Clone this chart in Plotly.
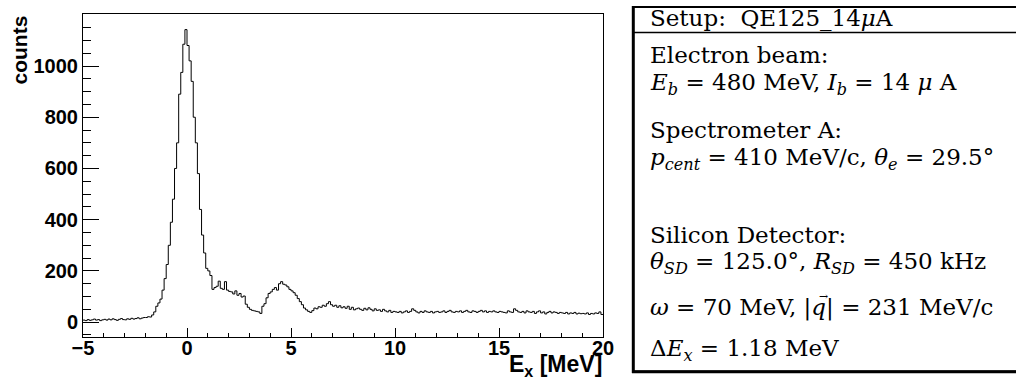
import numpy as np
import plotly.graph_objects as go

# ---------------- data ----------------
e_min, e_max = -5.0, 20.0          # histogram range [MeV]
counts = [
    # -5 .. -4
    8, 6, 10, 7, 9, 12, 8, 10, 6, 9,
    # -4 .. -3
    11, 8, 12, 9, 13, 10, 7, 11, 14, 10,
    # -3 .. -2
    9, 13, 11, 15, 12, 14, 17, 13, 16, 18,
    # -2 .. -1
    18, 21, 20, 28, 40, 62, 75, 90, 125, 170,
    # -1 .. 0
    225, 300, 390, 480, 600, 700, 890, 975, 1085, 1142,
    # 0 .. 1
    1080, 1020, 940, 800, 700, 580, 440, 340, 270, 210,
    # 1 .. 2
    200, 182, 128, 135, 140, 160, 132, 128, 158, 125,
    # 2 .. 3
    120, 118, 110, 122, 105, 112, 98, 102, 70, 58,
    # 3 .. 4
    50, 46, 44, 42, 40, 34, 62, 72, 95, 112,
    # 4 .. 5
    118, 128, 135, 125, 150, 158, 148, 145, 138, 128,
    # 5 .. 6
    122, 115, 105, 92, 80, 68, 55, 48, 42, 38,
    # 6 .. 7
    45, 55, 52, 60, 58, 66, 62, 72, 80, 68,
    # 7 .. 8
    62, 66, 58, 64, 56, 60, 54, 62, 50, 58,
    # 8 .. 9
    48, 52, 55, 50, 46, 54, 48, 56, 50, 44,
    # 9 .. 10
    52, 46, 48, 42, 50, 44, 40, 46, 38, 42,
    # 10 .. 11
    40, 38, 42, 36, 40, 44, 38, 42, 52, 46,
    # 11 .. 12
    40, 36, 42, 38, 44, 40, 38, 42, 36, 40,
    # 12 .. 13
    42, 38, 40, 44, 38, 42, 46, 40, 38, 42,
    # 13 .. 14
    40, 44, 38, 42, 46, 40, 38, 44, 42, 38,
    # 14 .. 15
    42, 46, 40, 44, 38, 42, 40, 44, 40, 38,
    # 15 .. 16
    42, 40, 38, 36, 44, 40, 38, 52, 46, 40,
    # 16 .. 17
    38, 42, 36, 44, 40, 38, 42, 34, 40, 44,
    # 17 .. 18
    36, 40, 32, 38, 42, 36, 40, 38, 34, 38,
    # 18 .. 19
    36, 34, 38, 32, 36, 34, 38, 32, 35, 33,
    # 19 .. 20
    34, 32, 36, 30, 34, 32, 36, 34, 40, 30,
]
x_ticks = [-5, 0, 5, 10, 15, 20]
y_ticks = [0, 200, 400, 600, 800, 1000]
x_title = "<b>E<sub>x</sub> [MeV]</b>"
y_title = "<b>counts</b>"
info_lines = [
    "Setup:  QE125_14<i>μ</i>A",
    "Electron beam:",
    "<i>E<sub>b</sub></i> = 480 MeV, <i>I<sub>b</sub></i> = 14 <i>μ</i> A",
    "Spectrometer A:",
    "<i>p<sub>cent</sub></i> = 410 MeV/c, <i>θ<sub>e</sub></i> = 29.5°",
    "Silicon Detector:",
    "<i>θ<sub>SD</sub></i> = 125.0°, <i>R<sub>SD</sub></i> = 450 kHz",
    "<i>ω</i> = 70 MeV, |<i>q</i>| = 231 MeV/c",
    "Δ<i>E<sub>x</sub></i> = 1.18 MeV",
]

# ---------------- geometry (pixels) ----------------
W, H = 1016, 392
L, R, T, B = 83, 603, 14, 337


def px(xp):
    return (xp - L) / (R - L)


def py(yp):
    return (B - yp) / (B - T)


edges = np.linspace(e_min, e_max, len(counts) + 1)
xs = list(edges)
ys = list(counts) + [counts[-1]]

fig = go.Figure()
fig.add_trace(go.Scatter(
    x=xs, y=ys, mode="lines", line=dict(color="black", width=1, shape="hv"),
    hoverinfo="skip", showlegend=False,
))

tickfont = dict(family="Liberation Sans", size=20, color="black", weight="bold")
fig.update_xaxes(
    range=[e_min, e_max], tickvals=x_ticks, ticks="inside", ticklen=9,
    tickcolor="black", tickwidth=1, ticklabelstandoff=-7,
    minor=dict(dtick=1, ticks="inside", ticklen=4.5, tickcolor="black", tickwidth=1),
    showline=True, linecolor="black", linewidth=1, mirror=True,
    showgrid=False, zeroline=False, tickfont=tickfont, automargin=False,
)
fig.update_yaxes(
    range=[-58, 1203], tickvals=y_ticks, ticks="inside", ticklen=16,
    tickcolor="black", tickwidth=1,
    minor=dict(dtick=50, ticks="inside", ticklen=8, tickcolor="black", tickwidth=1),
    showline=True, linecolor="black", linewidth=1, mirror=True,
    showgrid=False, zeroline=False, tickfont=tickfont, automargin=False,
)

annotations = [
    dict(text=y_title, xref="paper", yref="paper", x=px(19), y=py(14),
         xanchor="center", yanchor="top", textangle=-90, showarrow=False,
         font=dict(family="Liberation Sans", size=21, color="black")),
    dict(text=x_title, xref="paper", yref="paper", x=px(604), y=py(349),
         xanchor="right", yanchor="top", showarrow=False,
         font=dict(family="Liberation Sans", size=23, color="black")),
]
line_centers = [18, 55, 84, 130, 159, 235, 263, 307, 350]
for txt, yc in zip(info_lines, line_centers):
    annotations.append(dict(
        text=txt, xref="paper", yref="paper", x=px(648), y=py(yc),
        xanchor="left", yanchor="middle", showarrow=False, align="left",
        font=dict(family="DejaVu Serif", size=23, color="black"),
    ))
# vector arrow over q
annotations.append(dict(
    text="→", xref="paper", yref="paper", x=px(823), y=py(296),
    xanchor="center", yanchor="middle", showarrow=False,
    font=dict(family="DejaVu Serif", size=11, color="black"),
))

shapes = [
    # info box outline
    dict(type="rect", xref="paper", yref="paper", x0=px(633), x1=px(1030),
         y0=py(371.5), y1=py(7), line=dict(color="black", width=2)),
    dict(type="line", xref="paper", yref="paper", x0=px(633.3), x1=px(633.3),
         y0=py(373), y1=py(6), line=dict(color="black", width=3)),
    dict(type="line", xref="paper", yref="paper", x0=px(632), x1=px(1030),
         y0=py(371.7), y1=py(371.7), line=dict(color="black", width=3)),
    dict(type="line", xref="paper", yref="paper", x0=px(633), x1=px(1030),
         y0=py(32.5), y1=py(32.5), line=dict(color="black", width=1.5)),
]

fig.update_layout(
    width=W, height=H, margin=dict(l=L, r=W - R, t=T, b=H - B, pad=0),
    paper_bgcolor="white", plot_bgcolor="white",
    annotations=annotations, shapes=shapes, showlegend=False,
)

fig.write_html("out.html", config={"displayModeBar": False},
               post_script="document.body.style.margin='0px';")
